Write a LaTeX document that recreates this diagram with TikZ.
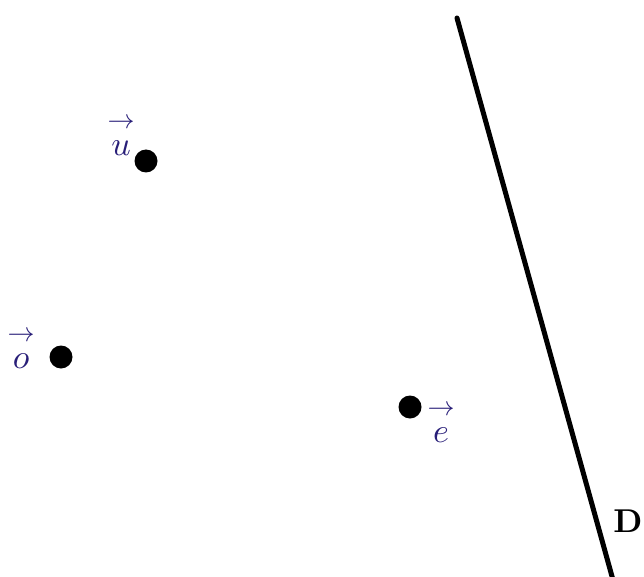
\documentclass[tikz,border=0pt]{standalone}
\usepackage{amsmath}
\definecolor{inkblue}{RGB}{40,30,120}
\newcommand{\vlabel}[1]{\scalebox{2.7}{$\rightarrow$}\\[12pt]\scalebox{3.4}{$#1$}}
\begin{document}
\begin{tikzpicture}[x=1pt,y=-1pt,
  pt/.style={circle,fill=black,inner sep=0pt,minimum size=23pt},
  lbl/.style={text=inkblue,inner sep=0pt,align=center}]
\useasboundingbox (0,0) rectangle (644,577);
\node[pt] (u) at (146,161) {};
\node[pt] (o) at (61,357) {};
\node[pt] (e) at (410,407) {};
\node[lbl] (lu) at (121,137) {\vlabel{u}};
\node[lbl] (lo) at (21,350) {\vlabel{o}};
\node[lbl] (le) at (441,424) {\vlabel{e}};
\coordinate (d1) at (457,18);
\coordinate (d2) at (613,580);
\draw[line width=5pt,line cap=round] (d1) -- (d2);
\node[inner sep=0pt] (D) at (628,521) {\scalebox{3.3}{\bfseries D}};
\end{tikzpicture}
\end{document}
